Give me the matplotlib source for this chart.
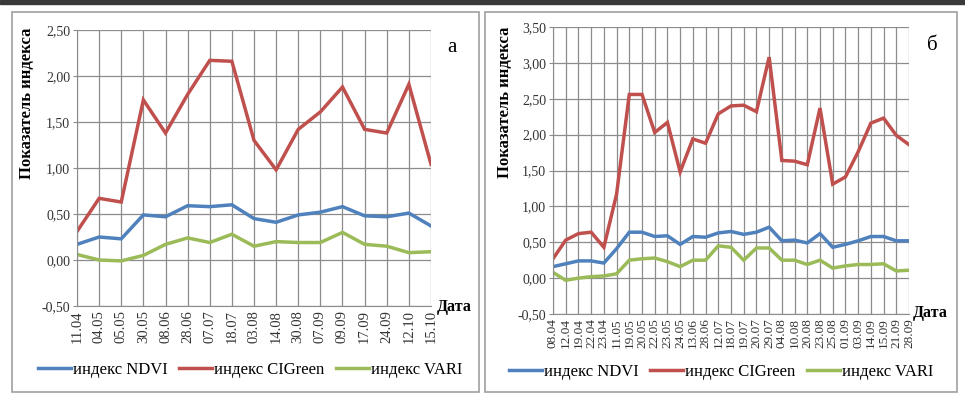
import matplotlib.pyplot as plt
from matplotlib.patches import Rectangle

# panel а
dates_a = ["11.04", "04.05", "05.05", "30.05", "08.06", "28.06", "07.07", "18.07", "03.08",
           "14.08", "30.08", "07.09", "09.09", "17.09", "24.09", "12.10", "15.10"]
ndvi_a = [0.17, 0.25, 0.23, 0.49, 0.47, 0.59, 0.58, 0.60, 0.45,
          0.41, 0.49, 0.52, 0.58, 0.48, 0.47, 0.51, 0.37]
cig_a = [0.31, 0.67, 0.63, 1.74, 1.38, 1.80, 2.17, 2.16, 1.30,
         0.98, 1.42, 1.61, 1.88, 1.42, 1.38, 1.91, 1.04]
vari_a = [0.06, 0.00, -0.01, 0.05, 0.17, 0.24, 0.19, 0.28, 0.15,
          0.20, 0.19, 0.19, 0.30, 0.17, 0.15, 0.08, 0.09]

# panel б
dates_b = ["08.04", "12.04", "19.04", "22.04", "23.04", "11.05", "19.05", "20.05", "22.05",
           "23.05", "24.05", "13.06", "28.06", "12.07", "18.07", "19.07", "20.07", "29.07",
           "04.08", "10.08", "20.08", "23.08", "25.08", "01.09", "03.09", "14.09", "15.09",
           "21.09", "28.09"]
ndvi_b = [0.16, 0.20, 0.24, 0.24, 0.21, 0.41, 0.64, 0.64, 0.58,
          0.59, 0.47, 0.58, 0.57, 0.63, 0.65, 0.61, 0.64, 0.71,
          0.52, 0.53, 0.49, 0.62, 0.43, 0.47, 0.52, 0.58, 0.58,
          0.52, 0.52]
cig_b = [0.27, 0.53, 0.62, 0.64, 0.43, 1.17, 2.56, 2.56, 2.03,
         2.17, 1.48, 1.94, 1.88, 2.29, 2.40, 2.41, 2.32, 3.08,
         1.64, 1.63, 1.58, 2.37, 1.31, 1.41, 1.76, 2.16, 2.23,
         1.99, 1.86]
vari_b = [0.08, -0.03, 0.00, 0.02, 0.03, 0.06, 0.25, 0.27, 0.28,
          0.23, 0.16, 0.25, 0.25, 0.45, 0.43, 0.25, 0.42, 0.42,
          0.25, 0.25, 0.19, 0.25, 0.14, 0.17, 0.19, 0.19, 0.20,
          0.10, 0.11]

series_names = ["индекс NDVI", "индекс CIGreen", "индекс VARI"]
colors = ["#4F81BD", "#C0504D", "#9BBB59"]

W, H = 965, 395
plt.rcParams["font.family"] = ["Liberation Serif", "DejaVu Serif"]
fig = plt.figure(figsize=(W / 100, H / 100), dpi=100)


def px_rect(x0, y0, x1, y1):
    return [x0 / W, 1 - y1 / H, (x1 - x0) / W, (y1 - y0) / H]


# top dark band and panel frames
fig.patches.append(Rectangle((0, 1 - 4 / H), 1, 4 / H, transform=fig.transFigure,
                             color="#3a3a3a", zorder=0))
for (x0, y0, x1, y1) in [(12, 12, 479, 392), (485, 12, 957, 392)]:
    fig.patches.append(Rectangle((x0 / W, 1 - y1 / H), (x1 - x0) / W, (y1 - y0) / H,
                                 transform=fig.transFigure, fill=False,
                                 edgecolor="#a0a0a0", linewidth=1.2, zorder=0))


def draw(rect, dates, ndvi, cig, vari, ymax, xfs, letter, letter_xy, ylab_xy, date_xy, leg_xy):
    ax = fig.add_axes(px_rect(*rect))
    x = range(len(dates))
    for vals, name, c in zip([ndvi, cig, vari], series_names, colors):
        ax.plot(x, vals, color=c, lw=2.5, label=name, solid_joinstyle="miter")
    ax.set_xlim(0, len(dates) - 1)
    ax.set_ylim(-0.5, ymax)
    yt = [-0.5 + 0.5 * i for i in range(int(round((ymax + 0.5) / 0.5)) + 1)]
    ax.set_yticks(yt)
    ax.set_yticklabels([f"{v:.2f}".replace(".", ",") for v in yt], fontsize=10, color="#333333")
    ax.set_xticks(list(x))
    ax.set_xticklabels(dates, rotation=90, fontsize=xfs, color="#333333")
    ax.grid(True, color="#8c8c8c", lw=0.9)
    ax.set_axisbelow(True)
    for s in ["top", "right"]:
        ax.spines[s].set_visible(False)
    for s in ["left", "bottom"]:
        ax.spines[s].set_color("#8c8c8c")
    ax.tick_params(axis="y", length=3, color="#8c8c8c", pad=2)
    ax.tick_params(axis="x", length=0, pad=3)
    fig.text(letter_xy[0] / W, 1 - letter_xy[1] / H, letter, fontsize=15, ha="center", va="center")
    fig.text(ylab_xy[0] / W, 1 - ylab_xy[1] / H, "Показатель индекса", rotation=90,
             fontsize=12, fontweight="bold", ha="center", va="center")
    fig.text(date_xy[0] / W, 1 - date_xy[1] / H, "Дата", fontsize=11.5, fontweight="bold",
             ha="left", va="center")
    ax.legend(loc="center", bbox_to_anchor=(leg_xy[0] / W, 1 - leg_xy[1] / H),
              bbox_transform=fig.transFigure, ncol=3, frameon=False, fontsize=12,
              handlelength=2.0, handletextpad=0.1, columnspacing=0.7)
    return ax


draw((77, 30, 431, 306), dates_a, ndvi_a, cig_a, vari_a, 2.5, 10.5, "а",
     (452, 48), (27, 103), (437, 307), (250, 370))
draw((553, 27, 909, 314), dates_b, ndvi_b, cig_b, vari_b, 3.5, 9.5, "б",
     (932, 46), (505, 102), (913, 313), (721, 372))

fig.savefig("out.png", dpi=100)
